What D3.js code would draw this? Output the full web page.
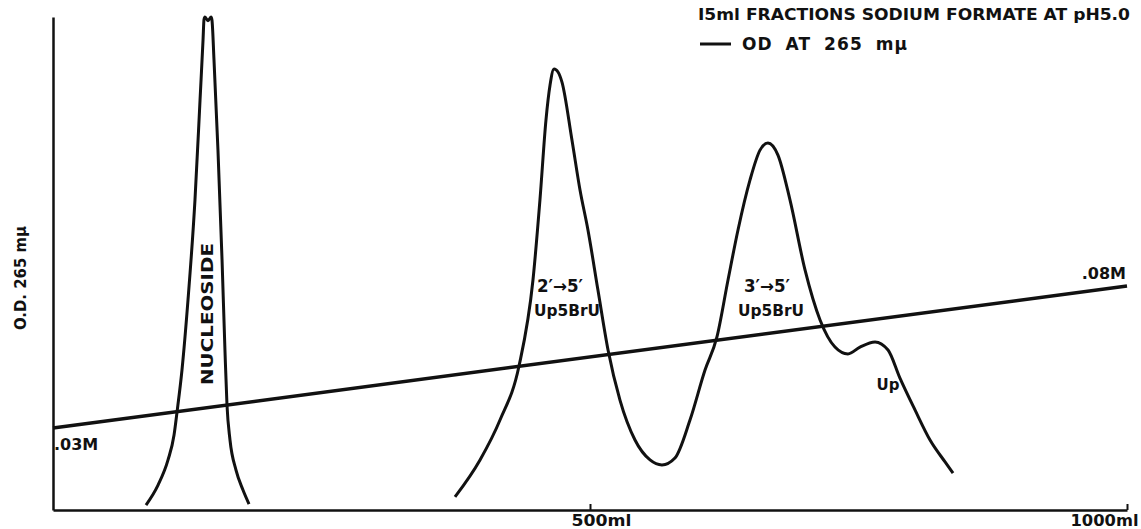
<!DOCTYPE html>
<html><head><meta charset="utf-8">
<script src="https://cdn.jsdelivr.net/npm/d3@7"></script>
<style>
html,body{margin:0;padding:0;background:#fff;}
svg text{font-family:"DejaVu Sans",sans-serif;font-weight:bold;fill:#111;}
</style></head>
<body><svg id="c" width="1141" height="529"></svg>
<script>
// effluent volume (ml) and optical density at 265 mµ
const nucleosideMl = [86.6,97.8,107.1,112.7,115.5,120.1,125.7,132.2,136.9,139.7,140.6,141.5,144.3,147.1,148.0,149.9,153.6,157.4,160.1,162.0,164.8,170.4,176.9,182.5];
const nucleosideOD = [0.020,0.101,0.203,0.304,0.398,0.568,0.852,1.258,1.663,1.907,1.990,2.0,1.985,2.0,1.988,1.826,1.460,1.014,0.649,0.426,0.284,0.162,0.081,0.024];
const mainMl = [374.3,397.6,416.2,433.9,446.9,453.4,459.0,462.8,466.5,470.2,473.9,483.2,490.7,498.1,507.4,516.8,527.9,541.9,555.9,567.0,579.1,593.1,607.1,618.2,628.5,637.8,649.0,658.3,665.7,675.0,686.2,700.2,714.2,728.1,740.2,751.4,765.4,777.5,788.6,802.6,816.6,830.6,838.0];
const mainOD = [0.053,0.203,0.365,0.584,0.933,1.258,1.582,1.724,1.789,1.777,1.736,1.501,1.298,1.136,0.892,0.649,0.446,0.284,0.203,0.183,0.211,0.365,0.568,0.702,0.933,1.136,1.339,1.460,1.489,1.440,1.258,0.974,0.771,0.661,0.633,0.661,0.682,0.649,0.535,0.406,0.284,0.195,0.150];
// sodium formate gradient
const gradientMl = [0, 1000];
const gradientM = [0.03, 0.08];
const gradientLabels = [".03M", ".08M"];
// x axis ticks
const xTicks = [500, 1000];
const xTickLabels = ["500ml", "1000ml"];

const svg = d3.select("#c");
const x = d3.scaleLinear().domain([0, 1000]).range([53, 1127]);
const y = d3.scaleLinear().domain([0, 2]).range([510, 17]);
const yM = d3.scaleLinear().domain([0.03, 0.08]).range([428, 286]);

// axes
const ax = svg.append("g").attr("transform", "translate(0,510)")
  .call(d3.axisBottom(x).tickValues(xTicks).tickSize(-6).tickSizeOuter(0).tickPadding(10)
    .tickFormat((d, i) => xTickLabels[i]));
ax.select(".domain").attr("stroke", "#111").attr("stroke-width", 2.5);
ax.selectAll(".tick line").attr("stroke", "#111").attr("stroke-width", 2);
ax.selectAll(".tick text").attr("font-size", 16).attr("fill", "#111")
  .attr("y", 16).attr("dy", 0)
  .attr("dx", (d, i) => i === 0 ? 11 : -23)
  .attr("textLength", (d, i) => i === 0 ? 60 : 68).attr("lengthAdjust", "spacingAndGlyphs")
  .style("font-family", "'DejaVu Sans',sans-serif").style("font-weight", "bold");

const ay = svg.append("g").attr("transform", "translate(53,0)")
  .call(d3.axisLeft(y).tickValues([]).tickSizeOuter(0));
ay.select(".domain").attr("stroke", "#111").attr("stroke-width", 2.5);

// gradient line
svg.append("path")
  .datum(gradientMl.map((m, i) => [m, gradientM[i]]))
  .attr("d", d3.line().x(d => x(d[0])).y(d => yM(d[1])))
  .attr("fill", "none").attr("stroke", "#111").attr("stroke-width", 3.5);

svg.append("text").attr("x", x(gradientMl[0]) + 1).attr("y", yM(gradientM[0]) + 22)
  .attr("font-size", 16).text(gradientLabels[0]);
svg.append("text").attr("x", x(gradientMl[1]) - 1).attr("y", yM(gradientM[1]) - 7)
  .attr("text-anchor", "end").attr("font-size", 16).text(gradientLabels[1]);

// OD curves
const line = d3.line().x(d => x(d[0])).y(d => y(d[1])).curve(d3.curveMonotoneX);
svg.append("path").datum(nucleosideMl.map((m, i) => [m, nucleosideOD[i]]))
  .attr("d", line).attr("fill", "none").attr("stroke", "#111").attr("stroke-width", 3).attr("stroke-linejoin", "round");
svg.append("path").datum(mainMl.map((m, i) => [m, mainOD[i]]))
  .attr("d", line).attr("fill", "none").attr("stroke", "#111").attr("stroke-width", 3).attr("stroke-linejoin", "round");

// peak labels
svg.append("text").attr("transform", "translate(213,314) rotate(-90)")
  .attr("text-anchor", "middle").attr("font-size", 15).attr("textLength", 142).attr("lengthAdjust", "spacingAndGlyphs").text("NUCLEOSIDE");
svg.append("text").attr("x", 560).attr("y", 292).attr("text-anchor", "middle").attr("font-size", 17).attr("textLength", 46).attr("lengthAdjust", "spacingAndGlyphs").text("2′→5′");
svg.append("text").attr("x", 567).attr("y", 316).attr("text-anchor", "middle").attr("font-size", 15).attr("textLength", 66).attr("lengthAdjust", "spacingAndGlyphs").text("Up5BrU");
svg.append("text").attr("x", 767).attr("y", 292).attr("text-anchor", "middle").attr("font-size", 17).attr("textLength", 46).attr("lengthAdjust", "spacingAndGlyphs").text("3′→5′");
svg.append("text").attr("x", 771).attr("y", 316).attr("text-anchor", "middle").attr("font-size", 15).attr("textLength", 66).attr("lengthAdjust", "spacingAndGlyphs").text("Up5BrU");
svg.append("text").attr("x", 888).attr("y", 390).attr("text-anchor", "middle").attr("font-size", 15).text("Up");

// y-axis title
svg.append("text").attr("transform", "translate(26,278) rotate(-90)")
  .attr("text-anchor", "middle").attr("font-size", 15).attr("textLength", 104).attr("lengthAdjust", "spacingAndGlyphs").text("O.D. 265 mμ");

// legend
svg.append("text").attr("x", 698).attr("y", 20).attr("font-size", 15)
  .attr("textLength", 432).attr("lengthAdjust", "spacingAndGlyphs").text("I5ml FRACTIONS SODIUM FORMATE AT pH5.0");
svg.append("line").attr("x1", 700).attr("x2", 731).attr("y1", 44).attr("y2", 44)
  .attr("stroke", "#111").attr("stroke-width", 3);
svg.append("text").attr("x", 742).attr("y", 50).attr("font-size", 17)
  .attr("textLength", 165).attr("lengthAdjust", "spacing").attr("word-spacing", 6).text("OD  AT  265 mμ");
</script></body></html>
